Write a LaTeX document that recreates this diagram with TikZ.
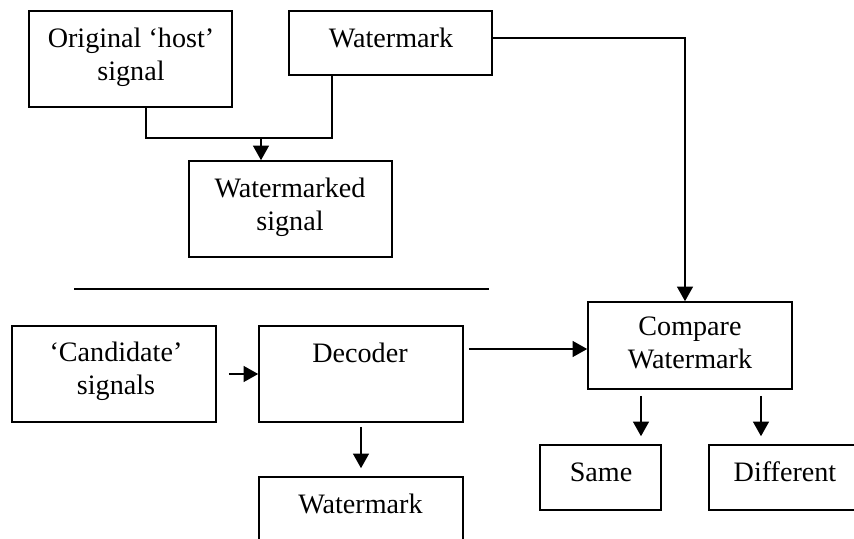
\documentclass[tikz,border=0pt]{standalone}
\usepackage{fontspec}
\setmainfont{Liberation Serif}
\usetikzlibrary{calc,arrows.meta}
\newdimen\pu \pu=0.75pt
\tikzset{
  every picture/.style={x=0.75pt,y=-0.75pt},
  box/.style={draw,line width=1.6\pu,rectangle,inner sep=0pt,
    minimum width=#1\pu},
  boxh/.style={minimum height=#1\pu},
  lbl/.style={align=center,inner sep=0pt,
    font=\fontsize{21.1pt}{24.75pt}\selectfont},
  conn/.style={line width=1.2pt},
  arr/.style={conn,-{Triangle[length=11pt,width=12pt]}}
}
\begin{document}
\begin{tikzpicture}
\clip (0,0) rectangle (854,539);
\useasboundingbox (0,0) rectangle (854,539);
\fill[white] (0,0) rectangle (854,539);

% embedding stage
\node[box=203,boxh=96] (orig) at (130.5,59) {};
\node[lbl] (origT) at (131,57) {Original ‘host’\\signal};
\node[box=203,boxh=64] (wmA) at (390.5,43) {};
\node[lbl] (wmAT) at (391,37.6) {Watermark};
\node[box=203,boxh=96] (wmd) at (290.5,209) {};
\node[lbl] (wmdT) at (290,207) {Watermarked\\signal};

\coordinate (m) at ($(wmd.north)+(-29.5,-22)$);
\draw[conn] ($(orig.south)+(15.5,0)$) |- (m) -| ($(wmA.south)+(-58.5,0)$);
\draw[arr] (m) -- (m |- wmd.north);

% separator
\coordinate (sepL) at (74,289);
\coordinate (sepR) at (489,289);
\draw[conn] (sepL) -- (sepR);

% detection stage
\node[box=204,boxh=96] (cand) at (114,374) {};
\node[lbl] (candT) at (116,371) {‘Candidate’\\signals};
\node[box=204,boxh=96] (dec) at (361,374) {};
\node[lbl] (decT) at (360,352.5) {Decoder};
\node[box=204,boxh=96] (wmB) at (361,525) {};
\node[lbl] (wmBT) at (360.5,503.5) {Watermark};
\node[box=204,boxh=87] (cmp) at (690,345.5) {};
\node[lbl] (cmpT) at (690,343) {Compare\\Watermark};
\node[box=121,boxh=65] (same) at (600.5,477.5) {};
\node[lbl] (sameT) at (601,472) {Same};
\node[box=170,boxh=65] (diff) at (794,477.5) {};
\node[lbl] (diffT) at (785,471.6) {Different};

\draw[arr] ($(cand.east)+(12,0)$) -- (dec.west);
\draw[arr] ($(dec.south)+(0,4)$) -- ($(wmB.north)+(0,-8)$);
\draw[arr] ($(dec.east)+(5,-25)$) coordinate (d1) -- (d1 -| cmp.west);
\draw[arr] ($(wmA.east)+(0,-5)$) -| ($(cmp.north)+(-5,0)$);
\draw[arr] ($(cmp.south)+(-49,6)$) -- ($(same.north)+(40.5,-8)$);
\draw[arr] ($(cmp.south)+(71,6)$) -- ($(diff.north)+(-33,-8)$);
\end{tikzpicture}
\end{document}
